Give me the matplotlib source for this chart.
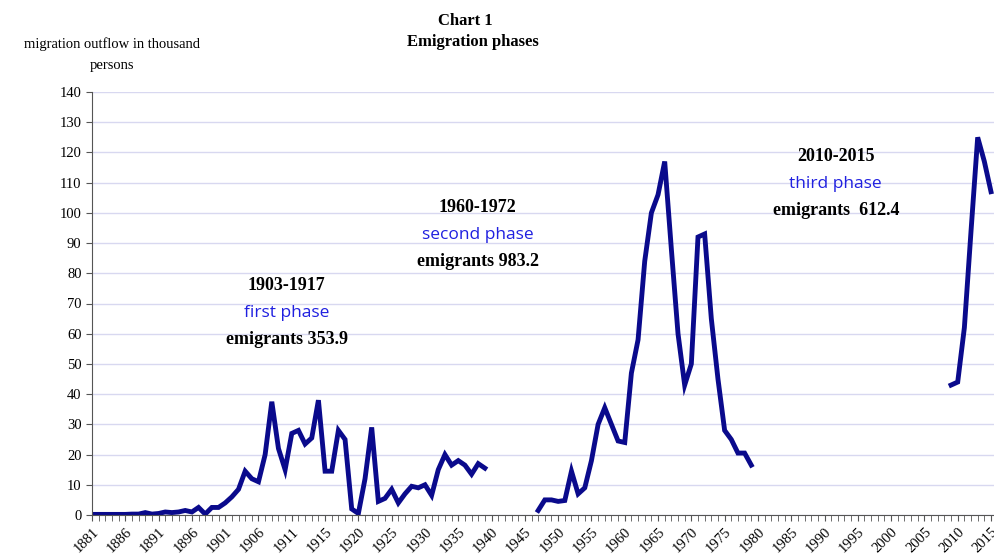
import numpy as np
import matplotlib
matplotlib.use("Agg")
from matplotlib import pyplot as plt

# category labels along x (one duplicated year slot between 1911 and 1915)
years = list(range(1881, 1915)) + [1914] + list(range(1915, 2016))
tick_every = 5

# values per category index (None = no data)
phase1 = [0.2, 0.2, 0.2, 0.2, 0.2, 0.2, 0.3, 0.3, 0.8, 0.3,
          0.5, 1.0, 0.8, 1.0, 1.5, 1.0, 2.5, 0.3, 2.5, 2.5,
          4.0, 6.0, 8.5, 14.5, 12.0, 11.0, 20.0, 37.5, 22.0, 15.0,
          27.0, 28.0, 23.5, 25.5, 38.0, 14.5, 14.5, 28.0, 25.0, 2.0,
          0.5, 12.0, 29.0, 4.5, 5.5, 8.5, 4.0, 7.0, 9.5, 9.0,
          10.0, 6.5, 15.0, 20.0, 16.5, 18.0, 16.5, 13.5, 17.0, 15.5]
phase2_start = 67
phase2 = [1.5, 5.0, 5.0, 4.5, 4.8, 14.5, 7.0, 9.0, 18.0, 30.0,
          35.5, 30.0, 24.5, 24.0, 47.0, 58.0, 84.0, 100.0, 106.0, 117.0,
          88.0, 60.0, 43.0, 50.0, 92.0, 93.0, 65.0, 45.0, 28.0, 25.0,
          20.5, 20.5, 16.5]
phase3_start = 129
phase3 = [43.0, 44.0, 62.0, 94.0, 125.0, 117.0, 107.0]

fig = plt.figure(figsize=(9.95, 5.56), dpi=100)
ax = fig.add_axes([92/995, 41/556, 1 - 92/995, (515-92)/556])

line_color = "#0a0a8c"
for start, vals in [(0, phase1), (phase2_start, phase2), (phase3_start, phase3)]:
    x = np.arange(start, start + len(vals))
    ax.plot(x, vals, color=line_color, lw=3.5, solid_joinstyle="miter")

ax.set_ylim(0, 140)
ax.set_xlim(0, 135.6)
ax.set_yticks(range(0, 141, 10))
ax.tick_params(axis="y", labelsize=10.5, length=4, color="#555555")
for lab in ax.get_yticklabels():
    lab.set_family("Liberation Serif")
idx = list(range(0, len(years), tick_every))
ax.set_xticks(idx)
ax.set_xticklabels([str(years[i]) for i in idx], rotation=45, ha="right",
                   rotation_mode="anchor", family="Liberation Serif", fontsize=10.5)
ax.set_xticks(range(len(years)), minor=True)
ax.tick_params(axis="x", which="both", direction="out", length=4, color="#555555")
ax.grid(axis="y", color="#d8d8f0", lw=1)
ax.set_axisbelow(True)
for s in ["top", "right"]:
    ax.spines[s].set_visible(False)
ax.spines["left"].set_color("#555555")
ax.spines["bottom"].set_color("#555555")

fig.text(0.468, 0.955, "Chart 1", ha="center", fontsize=12, weight="bold", family="Liberation Serif")
fig.text(0.475, 0.917, "Emigration phases", ha="center", fontsize=12, weight="bold", family="Liberation Serif")
fig.text(0.113, 0.913, "migration outflow in thousand", ha="center", fontsize=10.5, family="Liberation Serif")
fig.text(0.113, 0.875, "persons", ha="center", fontsize=10.5, family="Liberation Serif")

def note(x, y, period, phase, total):
    ax.text(x, y, period, ha="center", fontsize=13, weight="bold", family="Liberation Serif", transform=fig.transFigure)
    ax.text(x, y - 0.048, phase, ha="center", fontsize=12.5, color="#2020e0", family="Open Sans", transform=fig.transFigure)
    ax.text(x, y - 0.097, total, ha="center", fontsize=13, weight="bold", family="Liberation Serif", transform=fig.transFigure)

note(0.288, 0.478, "1903-1917", "first phase", "emigrants 353.9")
note(0.48, 0.618, "1960-1972", "second phase", "emigrants 983.2")
note(0.84, 0.71, "2010-2015", "third phase", "emigrants  612.4")

fig.savefig("out.png", dpi=100)
